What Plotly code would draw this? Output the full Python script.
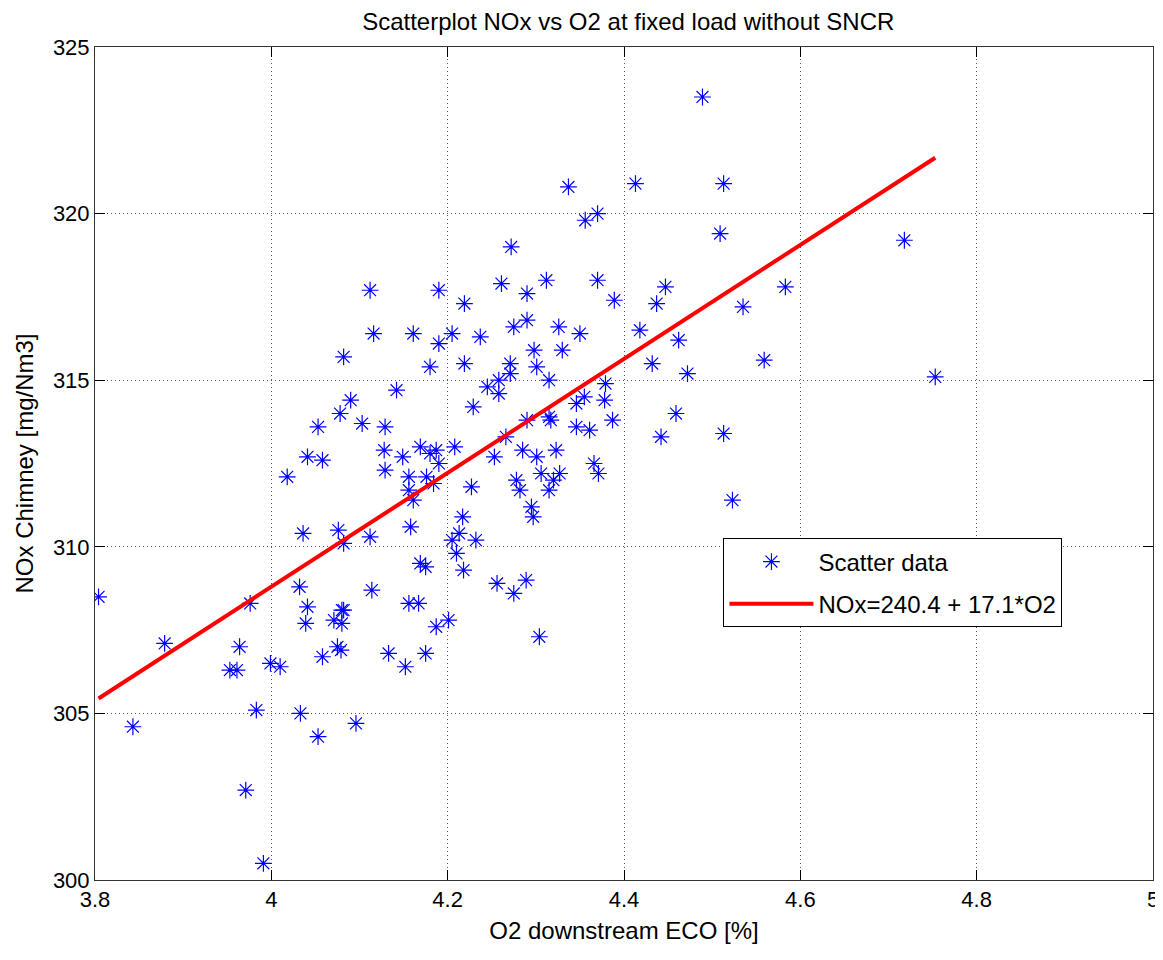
import plotly.graph_objects as go

# O2 downstream ECO [%] and NOx at chimney [mg/Nm3]
o2 = [4.489, 4.337, 4.413, 4.513, 4.356, 4.370, 4.272, 4.509, 4.261, 4.290,
      4.312, 4.370, 4.389, 4.447, 4.437, 4.535, 4.583, 4.275, 4.290, 4.326,
      4.350, 4.418, 4.112, 4.190, 4.219, 4.718, 4.753, 4.116, 4.161, 4.190,
      4.205, 4.237, 4.082, 4.180, 4.219, 4.142, 4.245, 4.090, 4.229, 4.078,
      4.053, 4.103, 4.129, 4.041, 4.058, 4.128, 4.149, 4.169, 4.180, 4.187,
      4.190, 4.208, 4.018, 4.129, 4.156, 4.176, 4.184, 4.156, 4.161, 4.227,
      4.217, 4.158, 4.036, 4.076, 4.082, 4.112, 4.213, 4.205, 4.232, 4.210,
      4.169, 4.175, 4.218, 3.804, 3.976, 4.032, 4.114, 4.041, 4.082, 4.156,
      4.167, 4.039, 4.071, 4.080, 4.080, 4.201, 4.187, 3.879, 3.964, 4.075,
      4.079, 4.058, 4.133, 4.175, 4.152, 3.953, 3.961, 3.999, 4.010, 3.983,
      4.033, 4.096, 3.843, 4.053, 3.971, 3.991, 4.258, 4.258, 4.298, 4.330,
      4.271, 4.271, 4.301, 4.432, 4.472, 4.462, 4.559, 4.315, 4.379, 4.346,
      4.355, 4.378, 4.290, 4.315, 4.317, 4.346, 4.361, 4.387, 4.459, 4.442,
      4.513, 4.266, 4.253, 4.285, 4.301, 4.323, 4.366, 4.371, 4.306, 4.327,
      4.320, 4.278, 4.282, 4.315, 4.295, 4.297, 4.523, 4.256, 4.275, 4.289,
      4.304]
nox = [323.5, 320.8, 320.9, 320.9, 319.8, 320.0, 319.0, 319.4, 317.9, 317.6,
       318.0, 318.0, 317.4, 317.8, 317.3, 317.2, 317.8, 316.6, 316.8, 316.6,
       316.4, 316.5, 317.7, 317.7, 317.3, 319.2, 315.1, 316.4, 316.4, 316.1,
       316.4, 316.3, 315.7, 315.4, 315.5, 314.7, 314.8, 314.4, 314.2, 314.0,
       313.6, 313.7, 313.6, 312.7, 312.6, 312.9, 312.7, 313.0, 312.8, 312.9,
       312.5, 313.0, 312.1, 312.3, 312.1, 312.1, 311.9, 311.7, 311.4, 311.8,
       310.9, 310.6, 310.4, 310.5, 310.1, 310.3, 310.4, 310.2, 310.2, 309.8,
       309.5, 309.4, 309.3, 308.5, 308.3, 308.8, 308.7, 308.2, 308.1, 308.3,
       308.3, 307.7, 307.8, 307.7, 308.1, 307.8, 307.6, 307.1, 307.0, 307.0,
       306.9, 306.7, 306.8, 306.8, 306.4, 306.3, 306.3, 306.5, 306.4, 305.1,
       305.0, 304.7, 304.6, 304.3, 302.7, 300.5, 315.0, 314.6, 315.9, 315.9,
       315.5, 315.2, 315.4, 315.5, 315.2, 316.2, 315.6, 315.0, 314.9, 314.3,
       314.5, 314.4, 313.8, 313.9, 313.8, 313.6, 313.5, 313.8, 314.0, 313.3,
       313.4, 313.3, 312.7, 312.9, 312.7, 312.9, 312.5, 312.2, 312.2, 312.2,
       312.0, 312.0, 311.7, 311.7, 311.2, 310.9, 311.4, 308.9, 308.6, 309.0,
       307.3]

# linear fit as printed in the legend
fit_a = 240.4
fit_b = 17.1
fit_x = [min(o2), max(o2)]
fit_y = [fit_a + fit_b * v for v in fit_x]

x_ticks = [3.8, 4.0, 4.2, 4.4, 4.6, 4.8, 5.0]
x_labels = ['3.8', '4', '4.2', '4.4', '4.6', '4.8', '5']
y_ticks = [300, 305, 310, 315, 320, 325]

font = 'Liberation Sans, Arial, sans-serif'

fig = go.Figure()
fig.add_trace(go.Scatter(
    x=o2, y=nox, mode='markers', name='Scatter data', legendgroup='a',
    marker=dict(symbol='asterisk-open', size=14, color='#0000ff',
                line=dict(color='#0000ff', width=1.2))))
fig.add_trace(go.Scatter(
    x=fit_x, y=fit_y, mode='lines', name='NOx=240.4 + 17.1*O2', legendgroup='b',
    line=dict(color='#ff0000', width=4)))

axis_style = dict(showline=True, linecolor='#333', linewidth=1, mirror='ticks',
                  ticks='inside', ticklen=10, tickcolor='#000',
                  showgrid=True, gridcolor='#555', griddash='1px,3px', gridwidth=1,
                  zeroline=False, automargin=False,
                  tickfont=dict(size=22, color='#000'))

fig.update_xaxes(range=[3.8, 5.0], tickvals=x_ticks, ticktext=x_labels,
                 title=dict(text='O2 downstream ECO [%]', font=dict(size=24, color='#000'),
                            standoff=10),
                 **axis_style)
fig.update_yaxes(range=[300, 325], tickvals=y_ticks,
                 title=dict(text='NOx Chimney [mg/Nm3]', font=dict(size=24, color='#000'),
                            standoff=12),
                 **axis_style)

# page body has an 8px margin, so the figure is a little smaller than the window
fig.update_layout(
    width=1155, height=952,
    margin=dict(l=87, r=10, t=39, b=80, autoexpand=False),
    paper_bgcolor='white', plot_bgcolor='white',
    font=dict(family=font, color='#000'),
    title=dict(text='Scatterplot NOx vs O2 at fixed load without SNCR',
               x=0.537, xanchor='center', y=1.0, yanchor='top', yref='container',
               pad=dict(t=5), automargin=False, font=dict(size=24, color='#000')),
    legend=dict(x=0.594, y=0.41, xanchor='left', yanchor='top',
                bgcolor='white', bordercolor='#000', borderwidth=1,
                font=dict(size=24, color='#000'), itemwidth=84,
                tracegroupgap=8),
    showlegend=True,
)

fig.write_html('out.html')
